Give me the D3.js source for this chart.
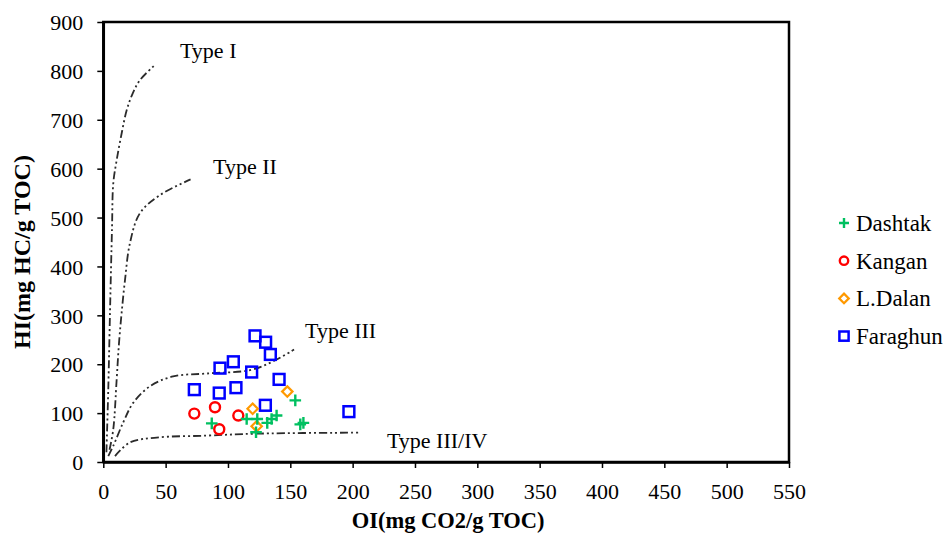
<!DOCTYPE html>
<html>
<head>
<meta charset="utf-8">
<script src="https://cdn.jsdelivr.net/npm/d3@7"></script>
<style>
  body { margin: 0; background: #fff; }
  svg text { font-family: "Liberation Serif", "Times New Roman", serif; }
</style>
</head>
<body>
<div id="chart"></div>
<script>
/* Samples: [OI, HI] */
const DASHTAK = [[87, 79], [115, 88], [123.5, 88], [122.5, 61], [131.5, 80], [135, 88], [139, 95], [154, 126], [158, 77], [160.5, 80]];
const KANGAN = [[73, 99], [89.6, 112], [108.3, 95], [93, 67]];
const LDALAN = [[147.6, 144], [119.8, 109], [123, 73]];
const FARAGHUN = [[121.7, 258], [130.2, 245], [134, 220], [93.6, 192], [104.3, 205], [119, 184], [141, 169], [73, 148], [93, 141], [106.4, 152], [130, 116], [197, 103]];

/* Kerogen type curves */
const TYPE_I = [[2.5, 20], [4, 150], [5.5, 320], [7, 480], [8, 570], [10.7, 617], [14.7, 672], [18.8, 720], [23.6, 754], [29.4, 781], [40.9, 811]];
const TYPE_II = [[5, 25], [8, 67], [10.7, 168], [12.5, 240], [14.7, 305], [17.4, 372], [21.4, 448], [29.4, 509], [45.5, 546], [70, 578]];
const TYPE_III = [[4, 12], [8, 33], [16, 81], [24, 121], [37.5, 155], [56, 175], [83, 181], [117.7, 188], [136.4, 206], [153, 230]];
const TYPE_III_IV = [[9.4, 12], [21.4, 40], [42.8, 50], [83, 54], [123, 58], [206, 60]];
const CURVE_LABELS = ['Type I', 'Type II', 'Type III', 'Type III/IV'];
const CURVE_LABEL_POS = [[61.5, 826], [88, 589], [161.8, 254], [227.5, 29]];

const X_TICKS = d3.range(0, 551, 50);
const Y_TICKS = d3.range(0, 901, 100);
const SERIES_NAMES = ['Dashtak', 'Kangan', 'L.Dalan', 'Faraghun'];

/* Dimensions */
const WIDTH = 947;
const HEIGHT = 533;
const LEFT = 103.3, RIGHT = 789, TOP = 22, BOTTOM = 462;
const LINE_COLOR = '#2b2b2b';
const SERIF = '"Liberation Serif", "Times New Roman", serif';

const svg = d3.select('#chart').append('svg')
    .attr('width', WIDTH)
    .attr('height', HEIGHT);

const x = d3.scaleLinear().domain([0, 550]).range([LEFT, RIGHT]);
const y = d3.scaleLinear().domain([0, 900]).range([BOTTOM, TOP]);

/* Frame */
svg.append('rect')
    .attr('x', LEFT).attr('y', TOP)
    .attr('width', RIGHT - LEFT).attr('height', BOTTOM - TOP)
    .attr('fill', 'none').attr('stroke', '#000').attr('stroke-width', 2.5);

/* Axes */
const xAxis = svg.append('g')
    .attr('transform', `translate(0,${BOTTOM})`)
    .call(d3.axisBottom(x).tickValues(X_TICKS).tickSize(6).tickSizeOuter(0).tickPadding(12));
const yAxis = svg.append('g')
    .attr('transform', `translate(${LEFT},0)`)
    .call(d3.axisLeft(y).tickValues(Y_TICKS).tickSize(6).tickSizeOuter(0).tickPadding(14));

[xAxis, yAxis].forEach(g => {
    g.attr('font-family', SERIF).attr('font-size', 22);
    g.select('.domain').attr('stroke-width', 2.5);
    g.selectAll('.tick line').attr('stroke-width', 1.5);
    g.selectAll('.tick text')
        .style('font-family', SERIF)
        .style('font-size', '22px')
        .attr('fill', '#000');
});
xAxis.selectAll('.tick text').attr('dy', '0.85em');
yAxis.selectAll('.tick text').attr('dy', '0.35em');

/* Axis titles */
svg.append('text')
    .attr('x', (LEFT + RIGHT) / 2 + 2)
    .attr('y', 528)
    .attr('text-anchor', 'middle')
    .style('font-size', '22.5px').style('font-weight', 'bold')
    .text('OI(mg CO2/g TOC)');

svg.append('text')
    .attr('transform', `translate(30,252) rotate(-90)`)
    .attr('text-anchor', 'middle')
    .style('font-size', '24px').style('font-weight', 'bold')
    .text('HI(mg HC/g TOC)');

/* Type curves */
const line = d3.line()
    .x(d => x(d[0]))
    .y(d => y(d[1]))
    .curve(d3.curveCatmullRom.alpha(0.5));

svg.append('g').selectAll('path')
    .data([TYPE_I, TYPE_II, TYPE_III, TYPE_III_IV])
    .enter().append('path')
    .attr('d', line)
    .attr('fill', 'none')
    .attr('stroke', LINE_COLOR)
    .attr('stroke-width', 1.8)
    .attr('stroke-dasharray', '8,3,2,3,2,3');

svg.append('g').selectAll('text')
    .data(CURVE_LABELS)
    .enter().append('text')
    .attr('x', (d, i) => x(CURVE_LABEL_POS[i][0]))
    .attr('y', (d, i) => y(CURVE_LABEL_POS[i][1]))
    .style('font-size', '22px')
    .text(d => d);

/* Markers */
const GREEN = '#00c060', RED = '#ff0000', ORANGE = '#ff9900', BLUE = '#0000ff';

const plus = (g, s) => g.append('path')
    .attr('d', `M${-s},0H${s}M0,${-s}V${s}`)
    .attr('fill', 'none').attr('stroke', GREEN).attr('stroke-width', 2.4);
const circle = (g, s) => g.append('circle')
    .attr('r', s).attr('fill', 'none').attr('stroke', RED).attr('stroke-width', 2.4);
const diamond = (g, s) => g.append('path')
    .attr('d', `M0,${-s}L${s},0L0,${s}L${-s},0Z`)
    .attr('fill', 'none').attr('stroke', ORANGE).attr('stroke-width', 2.2);
const square = (g, s) => g.append('rect')
    .attr('x', -s).attr('y', -s).attr('width', 2 * s).attr('height', 2 * s)
    .attr('fill', 'none').attr('stroke', BLUE).attr('stroke-width', 2.5);

const SERIES = [
    { data: DASHTAK, draw: plus, size: 5.8, legendSize: 5 },
    { data: KANGAN, draw: circle, size: 5, legendSize: 4.2 },
    { data: LDALAN, draw: diamond, size: 5.2, legendSize: 4.8 },
    { data: FARAGHUN, draw: square, size: 5.4, legendSize: 4.6 }
];

// draw order: Faraghun at the back, Dashtak on top
[3, 2, 1, 0].forEach(k => {
    const s = SERIES[k];
    svg.append('g').selectAll('g')
        .data(s.data)
        .enter().append('g')
        .attr('transform', d => `translate(${x(d[0])},${y(d[1])})`)
        .each(function () { s.draw(d3.select(this), s.size); });
});

/* Legend */
const legend = svg.append('g').attr('transform', 'translate(844,223)');
SERIES_NAMES.forEach((name, i) => {
    const row = legend.append('g').attr('transform', `translate(0,${i * 37.7})`);
    SERIES[i].draw(row, SERIES[i].legendSize);
    row.append('text')
        .attr('x', 12)
        .attr('dy', '0.35em')
        .style('font-size', '23px')
        .text(name);
});
</script>
</body>
</html>
